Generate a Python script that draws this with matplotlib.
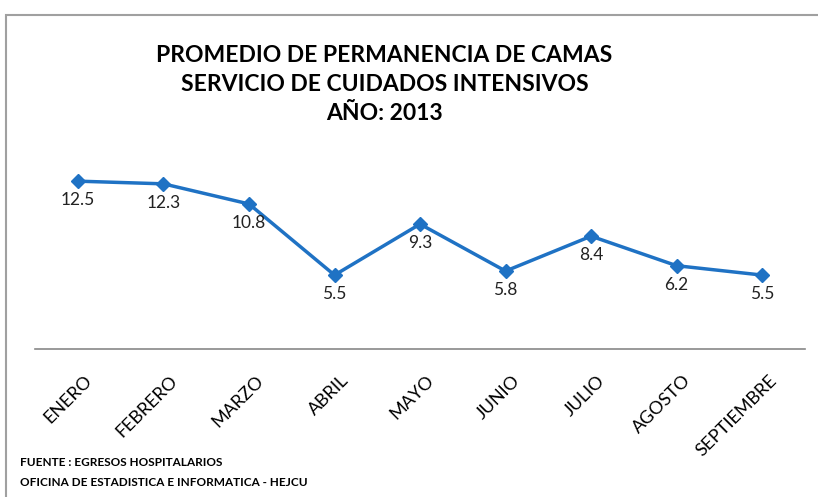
import matplotlib.pyplot as plt
from matplotlib.patches import Rectangle
from matplotlib.transforms import ScaledTranslation

meses = ['ENERO', 'FEBRERO', 'MARZO', 'ABRIL', 'MAYO', 'JUNIO', 'JULIO', 'AGOSTO', 'SEPTIEMBRE']
promedio = [12.5, 12.3, 10.8, 5.5, 9.3, 5.8, 8.4, 6.2, 5.5]

plt.rcParams['font.family'] = ['Lato', 'DejaVu Sans']

fig = plt.figure(figsize=(8.18, 4.97), dpi=100)
fig.patches.append(Rectangle((0.007, -0.01), 1.0, 0.98, transform=fig.transFigure,
                             fill=False, edgecolor='#a0a0a0', linewidth=1.5))

ax = fig.add_axes([0.043, 0.298, 0.941, 0.378])
x = range(len(meses))
ax.plot(x, promedio, color='#1f72c4', linewidth=2.5, marker='D', markersize=7)

# etiquetas de valores debajo de cada punto
for i, v in enumerate(promedio):
    ax.annotate(f'{v}', (i, v), xytext=(0, -8), textcoords='offset points',
                ha='center', va='top', fontsize=12.5, color='#222222')

ax.set_xlim(-0.5, len(meses) - 0.5)
ax.set_ylim(0, 14)
ax.set_yticks([])
ax.set_xticks(list(x))
ax.set_xticklabels(meses, rotation=45, ha='right', rotation_mode='anchor', fontsize=13)
ax.tick_params(axis='x', length=0, pad=17)
desplaza = ScaledTranslation(6 / 100, 0, fig.dpi_scale_trans)
for lbl in ax.get_xticklabels():
    lbl.set_transform(lbl.get_transform() + desplaza)
for s in ['top', 'right', 'left']:
    ax.spines[s].set_visible(False)
ax.spines['bottom'].set_color('#888888')
ax.spines['bottom'].set_linewidth(1.2)

fig.text(0.47, 0.83, 'PROMEDIO DE PERMANENCIA DE CAMAS\nSERVICIO DE CUIDADOS INTENSIVOS\nAÑO: 2013',
         ha='center', va='center', fontsize=16.5, fontweight='bold', linespacing=1.45)

fig.text(0.025, 0.07, 'FUENTE : EGRESOS HOSPITALARIOS', fontsize=8.5, fontweight='bold', va='center')
fig.text(0.025, 0.03, 'OFICINA DE ESTADISTICA E INFORMATICA - HEJCU', fontsize=8.5, fontweight='bold', va='center')

fig.savefig('out.png', dpi=100)
